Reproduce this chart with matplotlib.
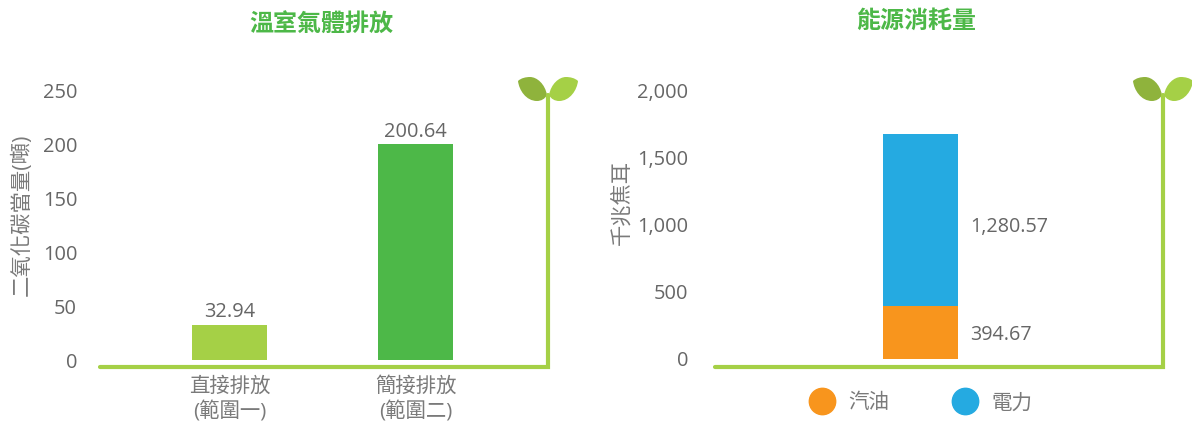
import matplotlib
matplotlib.use('Agg')
import matplotlib.pyplot as plt
from matplotlib.lines import Line2D
from matplotlib.patches import PathPatch
from matplotlib.path import Path
from matplotlib.transforms import Affine2D

plt.rcParams['font.family'] = ['Open Sans', 'Noto Sans CJK TC', 'DejaVu Sans']

W, H = 1192, 421

### Data
ghg_title = '溫室氣體排放'
ghg_ylabel = '二氧化碳當量(噸)'
ghg_categories = ['直接排放\n(範圍一)', '簡接排放\n(範圍二)']
ghg_values = [32.94, 200.64]
ghg_ticks = [0, 50, 100, 150, 200, 250]

energy_title = '能源消耗量'
energy_ylabel = '千兆焦耳'
energy_series = ['汽油', '電力']
energy_values = [394.67, 1280.57]
energy_ticks = [0, 500, 1000, 1500, 2000]

TEXT = '#666666'
LABEL = '#7a7a7a'
TITLE_GREEN = '#4db848'
LIME = '#a5d046'
LEAF_DARK = '#8fb33c'
ORANGE = '#f8951d'
BLUE = '#25aae1'

fig = plt.figure(figsize=(W / 100, H / 100), dpi=100)
# pixel coordinates of the reference, origin top left
px = Affine2D().scale(1, -1).translate(0, H)


def add_panel(left, right, top, bottom):
    ax = fig.add_axes([left / W, 1 - bottom / H, (right - left) / W, (bottom - top) / H])
    for s in ax.spines.values():
        s.set_visible(False)
    ax.patch.set_alpha(0)
    ax.tick_params(axis='y', length=0, labelsize=14.4, labelcolor=TEXT)
    ax.tick_params(axis='x', length=0, labelsize=14.7, labelcolor=LABEL, pad=12)
    return ax


def add_sprout(offset):
    # L-shaped ground line and stem
    fig.add_artist(Line2D([99.5 + offset, 548 + offset, 548 + offset], [367, 367, 95], transform=px,
                          color=LIME, lw=3, solid_capstyle='round', solid_joinstyle='miter'))
    # two leaves, the right one is the mirror of the left one
    leaf = [(547, 95), (545, 84), (537, 77), (530, 77), (526, 77), (521, 78), (518, 81),
            (519, 90), (526, 101), (537, 101), (541, 101), (545, 99), (547, 95), (547, 95)]
    codes = [Path.MOVETO] + [Path.CURVE4] * 12 + [Path.CLOSEPOLY]
    left_verts = [(x + offset, y) for x, y in leaf]
    right_verts = [(2 * 548 - x + offset, y) for x, y in leaf]
    fig.add_artist(PathPatch(Path(left_verts, codes), facecolor=LEAF_DARK, edgecolor='none', transform=px))
    fig.add_artist(PathPatch(Path(right_verts, codes), facecolor=LIME, edgecolor='none', transform=px))


### Greenhouse gas panel
ax1 = add_panel(98, 549, 91, 360)
ax1.bar([0, 1], ghg_values, width=75 / 186, color=[LIME, TITLE_GREEN])
ax1.set_xlim(-131.5 / 186, 319.5 / 186)
ax1.set_ylim(0, 250)
ax1.set_yticks(ghg_ticks)
ax1.set_xticks([0, 1], ghg_categories, linespacing=1.28)
for x, v in enumerate(ghg_values):
    ax1.text(x, v + 2, f'{v:.2f}', ha='center', va='bottom', fontsize=14.4, color=TEXT)
ax1.yaxis.set_tick_params(pad=15)
add_sprout(0)

### Energy panel
ax2 = add_panel(714, 1164, 90.5, 359)
bottoms = [0, energy_values[0]]
colors = [ORANGE, BLUE]
label_frac = [0.46, 0.46]
for name, v, b, c, f in zip(energy_series, energy_values, bottoms, colors, label_frac):
    ax2.bar([0], [v], bottom=[b], width=75 / 186, color=c, label=name)
    ax2.text(50 / 186, b + v * f, f'{v:,.2f}', ha='left', va='center', fontsize=14.2, color=TEXT)
ax2.set_xlim(-206.5 / 186, 243.5 / 186)
ax2.set_ylim(0, 2000)
ax2.set_yticks(energy_ticks, [f'{t:,}' for t in energy_ticks])
ax2.set_xticks([])
ax2.yaxis.set_tick_params(pad=18.7)
add_sprout(615)

handles = [Line2D([], [], ls='none', marker='o', ms=19, color=c) for c in colors]
fig.legend(handles, energy_series, loc='center', bbox_to_anchor=(919 / W, 1 - 403 / H), ncols=2, frameon=False,
           fontsize=14.8, labelcolor=LABEL, columnspacing=2.9, handletextpad=0.465, handlelength=1.6)

### Titles and y labels
fig.text(321 / W, 1 - 26 / H, ghg_title, ha='center', va='center',
         fontsize=17.3, fontweight='bold', color=TITLE_GREEN)
fig.text(916 / W, 1 - 22 / H, energy_title, ha='center', va='center',
         fontsize=17.3, fontweight='bold', color=TITLE_GREEN)
fig.text(22 / W, 1 - 215 / H, ghg_ylabel, rotation=90, ha='center', va='center', fontsize=15.4, color=LABEL)
fig.text(622 / W, 1 - 202 / H, energy_ylabel, rotation=90, ha='center', va='center', fontsize=15.3, color=LABEL)

fig.savefig('out.png', dpi=100)
